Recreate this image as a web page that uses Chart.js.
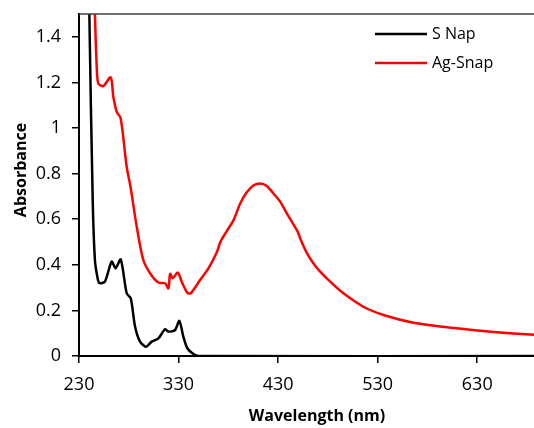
<!DOCTYPE html>
<html>
<head>
<meta charset="utf-8">
<script src="https://cdn.jsdelivr.net/npm/chart.js@4.4.1/dist/chart.umd.min.js"></script>
<style>
  html, body { margin: 0; padding: 0; background: #fff; }
  #wrap { width: 534px; height: 428px; position: relative; }
</style>
</head>
<body>
<div id="wrap"><canvas id="c" width="534" height="428"></canvas></div>
<script>
// ---- Data ----
const seriesNames = ["S Nap", "Ag-Snap"];
const xTickValues = [230, 330, 430, 530, 630];
const yTickValues = [0, 0.2, 0.4, 0.6, 0.8, 1, 1.2, 1.4];

const sNapWavelength = [239.5, 240.4, 243.8, 246, 248.4, 250.4, 256, 262.8, 266.8, 271.9, 277.9, 282, 286.3, 291.3, 297.3, 303, 309.7, 316.4, 319.8, 326.5, 330.8, 334.8, 338.8, 344.9, 350, 700];
const sNapAbsorbance = [2.0, 1.5, 0.68, 0.42, 0.348, 0.32, 0.326, 0.414, 0.385, 0.424, 0.275, 0.253, 0.129, 0.063, 0.041, 0.063, 0.077, 0.117, 0.107, 0.114, 0.154, 0.085, 0.034, 0.009, 0, 0];

const agSnapWavelength = [244.5, 246, 247.8, 249.4, 254.4, 261.8, 264.5, 267.9, 271.9, 277.9, 282, 288, 294.6, 301.4, 309.7, 316.4, 319.8, 321.5, 324.1, 329.2, 333.2, 338.8, 342.2, 351.6, 360, 368.4, 372, 378.4, 385.1, 391.8, 398.5, 405.2, 411.9, 418.6, 425.3, 432, 438.7, 445.4, 450, 452.5, 458.8, 465.5, 472.2, 482.3, 495.6, 515.7, 535.8, 566, 599.5, 633, 666.5, 700];
const agSnapAbsorbance = [1.75, 1.5, 1.27, 1.196, 1.184, 1.222, 1.137, 1.071, 1.042, 0.83, 0.735, 0.567, 0.421, 0.363, 0.322, 0.319, 0.297, 0.36, 0.341, 0.366, 0.326, 0.278, 0.275, 0.333, 0.384, 0.455, 0.5, 0.548, 0.595, 0.668, 0.718, 0.748, 0.757, 0.746, 0.713, 0.677, 0.626, 0.577, 0.542, 0.512, 0.452, 0.406, 0.37, 0.326, 0.275, 0.216, 0.18, 0.146, 0.126, 0.111, 0.099, 0.09];

const xTitle = "Wavelength (nm)";
const yTitle = "Absorbance";
const seriesColors = ["#000000", "#ff0000"];

// ---- Build ----
function toPoints(xs, ys) { return xs.map((x, i) => ({ x: x, y: ys[i] })); }

const FONT = "'Open Sans', 'Liberation Sans', sans-serif";

const decorPlugin = {
  id: 'decor',
  afterDraw(chart) {
    const ctx = chart.ctx;
    const a = chart.chartArea;
    ctx.save();
    // top border
    ctx.strokeStyle = '#404040';
    ctx.lineWidth = 1.5;
    ctx.beginPath();
    ctx.moveTo(a.left, a.top);
    ctx.lineTo(a.right, a.top);
    ctx.stroke();
    // legend
    ctx.font = "16px " + FONT;
    ctx.textBaseline = 'middle';
    ctx.textAlign = 'left';
    chart.data.datasets.forEach((ds, i) => {
      const y = 34 + i * 29;
      ctx.strokeStyle = ds.borderColor;
      ctx.lineWidth = 2.5;
      ctx.beginPath();
      ctx.moveTo(375, y);
      ctx.lineTo(427, y);
      ctx.stroke();
      ctx.fillStyle = '#000';
      ctx.fillText(ds.label, 432, y);
    });
    // axis titles
    ctx.font = "bold 16px " + FONT;
    ctx.fillStyle = '#000';
    ctx.textAlign = 'center';
    ctx.textBaseline = 'middle';
    ctx.fillText(xTitle, 317, 416);
    ctx.translate(21, 170);
    ctx.rotate(-Math.PI / 2);
    ctx.fillText(yTitle, 0, 0);
    ctx.restore();
  }
};

new Chart(document.getElementById('c'), {
  type: 'line',
  data: {
    datasets: [
      { label: seriesNames[0], data: toPoints(sNapWavelength, sNapAbsorbance), borderColor: seriesColors[0], borderWidth: 2.5, pointRadius: 0, fill: false, tension: 0.25 },
      { label: seriesNames[1], data: toPoints(agSnapWavelength, agSnapAbsorbance), borderColor: seriesColors[1], borderWidth: 2.5, pointRadius: 0, fill: false, tension: 0.3 }
    ]
  },
  options: {
    responsive: false,
    animation: false,
    layout: { padding: { top: 14, right: 0, left: 0, bottom: 0 } },
    plugins: { legend: { display: false }, tooltip: { enabled: false } },
    scales: {
      x: {
        type: 'linear',
        min: 230,
        max: 687,
        afterFit(s) { s.height = 72; s.paddingLeft = 0; s.paddingRight = 0; },
        afterBuildTicks(s) { s.ticks = xTickValues.map(v => ({ value: v })); },
        border: { display: true, color: '#000', width: 2 },
        grid: { drawOnChartArea: false, drawTicks: true, tickLength: 7, color: '#000', lineWidth: 1.5 },
        ticks: { color: '#000', font: { family: FONT, size: 18 }, padding: 11, maxRotation: 0, autoSkip: false }
      },
      y: {
        type: 'linear',
        min: 0,
        max: 1.5,
        afterFit(s) { s.width = 79; s.paddingTop = 0; s.paddingBottom = 0; },
        afterBuildTicks(s) { s.ticks = yTickValues.map(v => ({ value: v })); },
        border: { display: true, color: '#000', width: 2 },
        grid: { drawOnChartArea: false, drawTicks: true, tickLength: 7, color: '#000', lineWidth: 1.5 },
        ticks: { color: '#000', font: { family: FONT, size: 18 }, padding: 11, autoSkip: false,
                 callback: v => String(Math.round(v * 10) / 10) }
      }
    }
  },
  plugins: [decorPlugin]
});
</script>
</body>
</html>
